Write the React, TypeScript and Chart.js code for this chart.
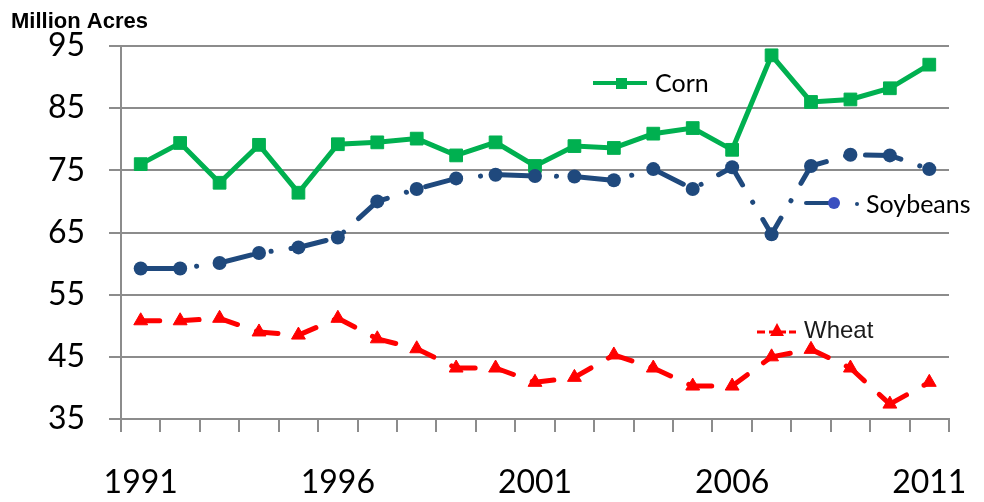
import React, { useEffect, useRef } from 'react';
import { Chart, registerables } from 'chart.js';

Chart.register(...registerables);

const years = ['1991','1992','1993','1994','1995','1996','1997','1998','1999','2000','2001','2002','2003','2004','2005','2006','2007','2008','2009','2010','2011'];
const corn = [76.0, 79.4, 73.0, 79.1, 71.4, 79.2, 79.5, 80.1, 77.4, 79.5, 75.7, 78.9, 78.6, 80.9, 81.8, 78.3, 93.5, 86.0, 86.4, 88.2, 92.0];
const soybeans = [59.2, 59.2, 60.1, 61.7, 62.6, 64.2, 70.0, 72.0, 73.7, 74.3, 74.1, 74.0, 73.4, 75.2, 72.0, 75.5, 64.7, 75.7, 77.5, 77.4, 75.2];
const wheat = [50.8, 50.8, 51.2, 49.0, 48.5, 51.2, 47.9, 46.3, 43.2, 43.2, 40.9, 41.7, 45.3, 43.2, 40.3, 40.3, 45.0, 46.2, 43.2, 37.4, 40.9];
const yMin = 35;
const yMax = 95;
const yStep = 10;
const labeledYears = ['1991', '1996', '2001', '2006', '2011'];

const CORN = '#00B050';
const SOY = '#1F497D';
const WHEAT = '#FF0000';
const GRID = '#8C8C8C';

const overlay = {
  id: 'overlay',
  afterDatasetsDraw(chart: any) {
    const ctx: CanvasRenderingContext2D = chart.ctx;
    ctx.save();
    // Title
    ctx.fillStyle = '#000';
    ctx.font = 'bold 22px "Liberation Sans", Arial, sans-serif';
    ctx.textAlign = 'left';
    ctx.textBaseline = 'alphabetic';
    ctx.fillText('Million Acres', 11, 28);

    // Corn legend
    ctx.strokeStyle = CORN;
    ctx.lineWidth = 4;
    ctx.beginPath();
    ctx.moveTo(593, 83);
    ctx.lineTo(647, 83);
    ctx.stroke();
    ctx.fillStyle = CORN;
    ctx.fillRect(616, 78, 11, 11);
    ctx.fillStyle = '#000';
    ctx.font = '25px Lato, sans-serif';
    ctx.textBaseline = 'middle';
    ctx.fillText('Corn', 655, 84);

    // Soybeans legend
    ctx.strokeStyle = SOY;
    ctx.lineWidth = 4;
    ctx.lineCap = 'round';
    ctx.beginPath();
    ctx.moveTo(806, 203);
    ctx.lineTo(830, 203);
    ctx.stroke();
    ctx.fillStyle = '#3A4FC0';
    ctx.beginPath();
    ctx.arc(834, 203, 6, 0, Math.PI * 2);
    ctx.fill();
    ctx.fillStyle = SOY;
    ctx.beginPath();
    ctx.arc(857, 204, 2, 0, Math.PI * 2);
    ctx.fill();
    ctx.fillStyle = '#000';
    ctx.font = '25px Lato, sans-serif';
    ctx.fillText('Soybeans', 866, 205);

    // Wheat legend
    ctx.strokeStyle = WHEAT;
    ctx.lineWidth = 3;
    ctx.lineCap = 'butt';
    ctx.beginPath();
    ctx.moveTo(757, 332); ctx.lineTo(765, 332);
    ctx.moveTo(769, 332); ctx.lineTo(786, 332);
    ctx.moveTo(789, 332); ctx.lineTo(796, 332);
    ctx.stroke();
    ctx.fillStyle = WHEAT;
    ctx.beginPath();
    ctx.moveTo(777, 323);
    ctx.lineTo(784, 336);
    ctx.lineTo(770, 336);
    ctx.closePath();
    ctx.fill();
    ctx.fillStyle = '#1a1a1a';
    ctx.font = '24px "Liberation Sans", Arial, sans-serif';
    ctx.fillText('Wheat', 804, 331);
    ctx.restore();
  },
};

export default function App() {
  const ref = useRef<HTMLCanvasElement | null>(null);
  useEffect(() => {
    if (!ref.current) return;
    const chart = new Chart(ref.current, {
      type: 'line',
      data: {
        labels: years,
        datasets: [
          {
            label: 'Wheat',
            data: wheat,
            borderColor: WHEAT,
            backgroundColor: WHEAT,
            borderWidth: 5,
            borderDash: [19, 20],
            borderCapStyle: 'round',
            pointStyle: 'triangle',
            pointRadius: 8,
            pointBorderWidth: 1,
            pointBorderColor: WHEAT,
            pointBackgroundColor: WHEAT,
            tension: 0,
            segment: {
              borderDashOffset: (c: any) => c.p0DataIndex * 1e-6,
            },
          },
          {
            label: 'Soybeans',
            data: soybeans,
            borderColor: SOY,
            backgroundColor: SOY,
            borderWidth: 5,
            borderDash: [36, 20, 0.1, 20],
            borderCapStyle: 'round',
            pointStyle: 'circle',
            pointRadius: 7,
            pointBorderWidth: 0,
            pointBackgroundColor: SOY,
            tension: 0,
          },
          {
            label: 'Corn',
            data: corn,
            borderColor: CORN,
            backgroundColor: CORN,
            borderWidth: 5,
            pointStyle: 'rect',
            pointRadius: 9,
            pointBorderWidth: 1,
            pointBorderColor: CORN,
            pointBackgroundColor: CORN,
            tension: 0,
          },
        ],
      },
      options: {
        animation: false,
        responsive: false,
        devicePixelRatio: 1,
        layout: { padding: { left: 0, top: 46, right: 35, bottom: 0 } },
        plugins: {
          legend: { display: false },
          tooltip: { enabled: false },
          title: { display: false },
        },
        scales: {
          x: {
            type: 'category',
            offset: true,
            afterFit: (s: any) => { s.height = 83; s.paddingLeft = 0; s.paddingRight = 0; },
            grid: {
              display: true,
              offset: true,
              drawOnChartArea: false,
              drawTicks: true,
              tickLength: 13,
              color: GRID,
              lineWidth: 2,
            },
            border: { display: true, color: GRID, width: 2 },
            ticks: {
              autoSkip: false,
              maxRotation: 0,
              minRotation: 0,
              padding: 31,
              color: '#000',
              font: { family: 'Lato, sans-serif', size: 32 },
              callback: (_v: any, i: number) => (labeledYears.includes(years[i]) ? years[i] : ''),
            },
          },
          y: {
            min: yMin,
            max: yMax,
            afterFit: (s: any) => { s.width = 121; s.paddingTop = 0; s.paddingBottom = 0; },
            grid: {
              display: true,
              drawTicks: true,
              tickLength: 12,
              color: GRID,
              lineWidth: 2,
            },
            border: { display: true, color: GRID, width: 2 },
            ticks: {
              stepSize: yStep,
              padding: 24,
              color: '#000',
              font: { family: 'Lato, sans-serif', size: 32 },
            },
          },
        },
      },
      plugins: [overlay],
    } as any);
    return () => chart.destroy();
  }, []);
  return (
    <div style={{ position: 'absolute', left: 0, top: 0, width: 984, height: 502, background: '#fff' }}>
      <canvas ref={ref} width={984} height={502} />
    </div>
  );
}
